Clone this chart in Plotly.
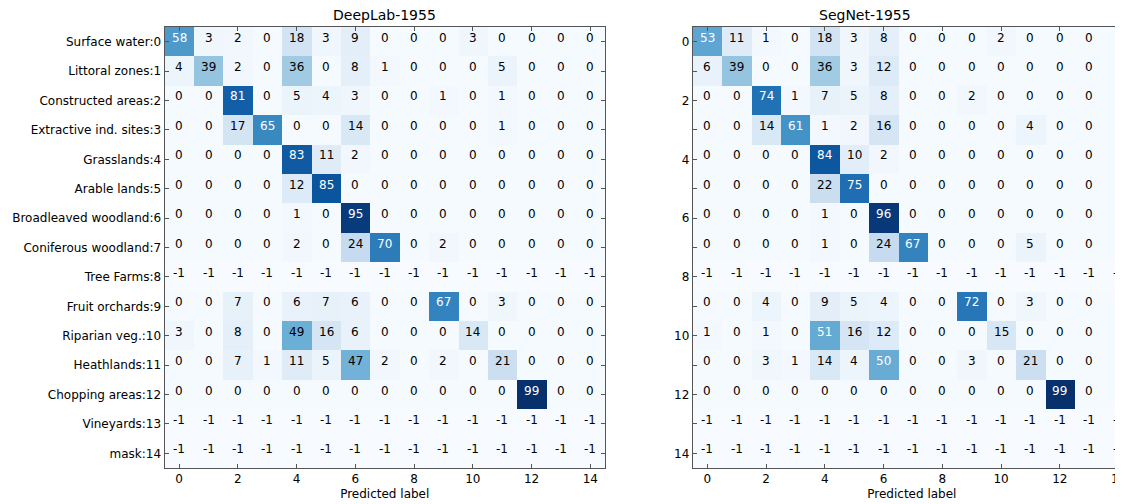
import plotly.graph_objects as go

categories = ["Surface water:0", "Littoral zones:1", "Constructed areas:2", "Extractive ind. sites:3",
              "Grasslands:4", "Arable lands:5", "Broadleaved woodland:6", "Coniferous woodland:7",
              "Tree Farms:8", "Fruit orchards:9", "Riparian veg.:10", "Heathlands:11",
              "Chopping areas:12", "Vineyards:13", "mask:14"]

NA = [-1] * 15

deeplab = [
    [58, 3, 2, 0, 18, 3, 9, 0, 0, 0, 3, 0, 0, 0, 0],
    [4, 39, 2, 0, 36, 0, 8, 1, 0, 0, 0, 5, 0, 0, 0],
    [0, 0, 81, 0, 5, 4, 3, 0, 0, 1, 0, 1, 0, 0, 0],
    [0, 0, 17, 65, 0, 0, 14, 0, 0, 0, 0, 1, 0, 0, 0],
    [0, 0, 0, 0, 83, 11, 2, 0, 0, 0, 0, 0, 0, 0, 0],
    [0, 0, 0, 0, 12, 85, 0, 0, 0, 0, 0, 0, 0, 0, 0],
    [0, 0, 0, 0, 1, 0, 95, 0, 0, 0, 0, 0, 0, 0, 0],
    [0, 0, 0, 0, 2, 0, 24, 70, 0, 2, 0, 0, 0, 0, 0],
    NA,
    [0, 0, 7, 0, 6, 7, 6, 0, 0, 67, 0, 3, 0, 0, 0],
    [3, 0, 8, 0, 49, 16, 6, 0, 0, 0, 14, 0, 0, 0, 0],
    [0, 0, 7, 1, 11, 5, 47, 2, 0, 2, 0, 21, 0, 0, 0],
    [0, 0, 0, 0, 0, 0, 0, 0, 0, 0, 0, 0, 99, 0, 0],
    NA,
    NA,
]

segnet = [
    [53, 11, 1, 0, 18, 3, 8, 0, 0, 0, 2, 0, 0, 0, 0],
    [6, 39, 0, 0, 36, 3, 12, 0, 0, 0, 0, 0, 0, 0, 0],
    [0, 0, 74, 1, 7, 5, 8, 0, 0, 2, 0, 0, 0, 0, 0],
    [0, 0, 14, 61, 1, 2, 16, 0, 0, 0, 0, 4, 0, 0, 0],
    [0, 0, 0, 0, 84, 10, 2, 0, 0, 0, 0, 0, 0, 0, 0],
    [0, 0, 0, 0, 22, 75, 0, 0, 0, 0, 0, 0, 0, 0, 0],
    [0, 0, 0, 0, 1, 0, 96, 0, 0, 0, 0, 0, 0, 0, 0],
    [0, 0, 0, 0, 1, 0, 24, 67, 0, 0, 0, 5, 0, 0, 0],
    NA,
    [0, 0, 4, 0, 9, 5, 4, 0, 0, 72, 0, 3, 0, 0, 0],
    [1, 0, 1, 0, 51, 16, 12, 0, 0, 0, 15, 0, 0, 0, 0],
    [0, 0, 3, 1, 14, 4, 50, 0, 0, 3, 0, 21, 0, 0, 0],
    [0, 0, 0, 0, 0, 0, 0, 0, 0, 0, 0, 0, 99, 0, 0],
    NA,
    NA,
]

titles = ["DeepLab-1955", "SegNet-1955"]
x_label = "Predicted label"

blues = [
    [0.0, "rgb(247,251,255)"], [0.125, "rgb(222,235,247)"], [0.25, "rgb(198,219,239)"],
    [0.375, "rgb(158,202,225)"], [0.5, "rgb(107,174,214)"], [0.625, "rgb(66,146,198)"],
    [0.75, "rgb(33,113,181)"], [0.875, "rgb(8,81,156)"], [1.0, "rgb(8,48,107)"],
]

W, H = 1123, 504
FONT = "DejaVu Sans"

# pixel geometry (figure pixels; page adds an 8px body margin)
top, bottom = 19, 460
left1, right1 = 156.5, 597.0
left2 = 684.7
cell = (right1 - left1) / 15.0
right2_data = -0.5 + (W - left2) / cell

fig = go.Figure()

idx = list(range(15))
for k, (mat, xa, ya) in enumerate([(deeplab, "x", "y"), (segnet, "x2", "y2")]):
    vmin = min(min(r) for r in mat)
    vmax = max(max(r) for r in mat)
    thresh = vmax / 2.0
    fig.add_trace(go.Heatmap(z=mat, x=idx, y=idx, colorscale=blues, zmin=vmin, zmax=vmax,
                             showscale=False, xaxis=xa, yaxis=ya, hoverinfo="skip"))
    for i in range(15):
        for j in range(15):
            v = mat[i][j]
            fig.add_annotation(x=j, y=i, xref=xa, yref=ya, text=str(v), showarrow=False,
                               yshift=4,
                               font=dict(family=FONT, size=12,
                                         color="white" if v > thresh else "black"))

ydom = [1 - bottom / H, 1 - top / H]
axcommon = dict(showgrid=False, zeroline=False, ticks="inside", ticklen=4, tickcolor="#555",
                showline=True, linecolor="#555", linewidth=1,
                tickfont=dict(family=FONT, size=12, color="black"), automargin=False)

fig.update_layout(
    width=W, height=H, margin=dict(l=0, r=0, t=0, b=0),
    paper_bgcolor="white", plot_bgcolor="white", showlegend=False,
    font=dict(family=FONT, color="black"),
    xaxis=dict(domain=[left1 / W, right1 / W], range=[-0.5, 14.5], tickvals=list(range(0, 15, 2)),
               mirror="ticks", anchor="y",
               title=dict(text=x_label, font=dict(family=FONT, size=12), standoff=4), **axcommon),
    yaxis=dict(domain=ydom, range=[14.5, -0.5], tickvals=idx, ticktext=categories,
               mirror="ticks", anchor="x", **axcommon),
    xaxis2=dict(domain=[left2 / W, 1.0], range=[-0.5, right2_data], tickvals=list(range(0, 15, 2)),
                mirror="ticks", anchor="y2",
                title=dict(text=x_label, font=dict(family=FONT, size=12), standoff=4), **axcommon),
    yaxis2=dict(domain=ydom, range=[14.5, -0.5], tickvals=idx,
                ticktext=[str(i) if i % 2 == 0 else "" for i in idx],
                mirror="ticks", anchor="x2", **axcommon),
)

fig.add_annotation(text=titles[0], x=(left1 + right1) / 2 / W, y=1 - 7 / H, xref="paper", yref="paper",
                   yanchor="middle", showarrow=False, font=dict(family=FONT, size=14, color="black"))
fig.add_annotation(text=titles[1], x=(left2 + left2 + 15 * cell) / 2 / W, y=1 - 7 / H, xref="paper",
                   yref="paper", yanchor="middle", showarrow=False,
                   font=dict(family=FONT, size=14, color="black"))

fig.write_html("out.html")
